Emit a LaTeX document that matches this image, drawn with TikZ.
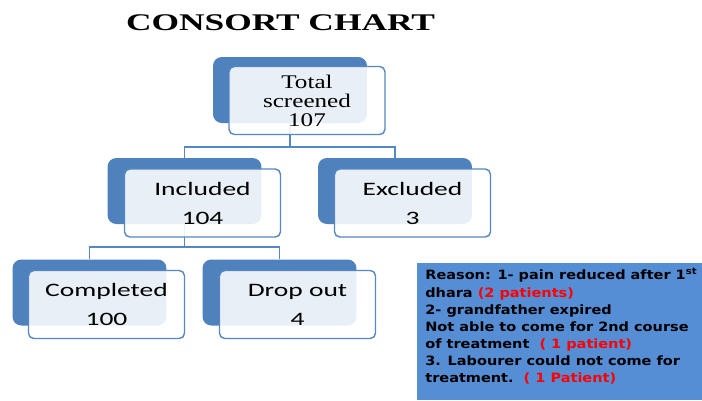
\documentclass[tikz,border=0pt]{standalone}
\usepackage{fontspec}
\usepackage{tikz}
\usetikzlibrary{positioning}
\usetikzlibrary{backgrounds}
\newfontfamily\titlefont[FakeStretch=1.48]{Liberation Serif}
\newfontfamily\topfont[FakeStretch=1.3]{Liberation Serif}
\newfontfamily\boxfont[FakeStretch=1.45]{Carlito}
\newfontfamily\notefont[FakeStretch=1.13]{DejaVu Sans}
\definecolor{boxblue}{RGB}{79,129,189}
\definecolor{boxline}{RGB}{84,135,196}
\definecolor{noteblue}{RGB}{85,142,213}
\definecolor{notered}{RGB}{255,0,0}
\tikzset{
  backbox/.style={fill=boxblue, rounded corners=5pt, minimum width=3.08cm, minimum height=1.32cm, inner sep=0pt},
  frontbox/.style={draw=boxline, line width=0.8pt, fill=white, fill opacity=0.88, text opacity=1, rounded corners=3pt, minimum width=3.12cm, minimum height=1.36cm, inner sep=0pt, align=center},
  link/.style={draw=boxline, line width=0.9pt}
}
\begin{document}
\begin{tikzpicture}[x=0.02cm, y=-0.02cm]
  \useasboundingbox (0,0) rectangle (702,400);
  \node (title) at (280.5,23) {\titlefont\bfseries\fontsize{13.6}{14}\selectfont CONSORT CHART};
  \node[backbox] (totalback) at (290,90) {};
  \node[frontbox, font={\topfont\fontsize{11}{10.8}\selectfont}] (total) at (307,100.5) {Total\\screened\\107};
  \node[backbox] (inclback) at (184.5,191) {};
  \node[frontbox, font={\boxfont\fontsize{10.8}{16.5}\selectfont}] (incl) at (202.5,203) {Included\\104};
  \node[backbox] (exclback) at (395,191) {};
  \node[frontbox, font={\boxfont\fontsize{10.8}{16.5}\selectfont}] (excl) at (412.5,203) {Excluded\\3};
  \node[backbox] (compback) at (89.5,292.5) {};
  \node[frontbox, font={\boxfont\fontsize{10.8}{16.5}\selectfont}] (comp) at (106.5,304.5) {Completed\\100};
  \node[backbox] (dropback) at (279.5,292.5) {};
  \node[frontbox, font={\boxfont\fontsize{10.8}{16.5}\selectfont}] (drop) at (297.5,304.5) {Drop out\\4};
  \begin{scope}[on background layer]
    \draw[link] (totalback) -- ++(0,57) -| (inclback);
    \draw[link] (totalback) -- ++(0,57) -| (exclback);
    \draw[link] (inclback) -- ++(0,56) -| (compback);
    \draw[link] (inclback) -- ++(0,56) -| (dropback);
  \end{scope}
  \fill[noteblue] (417,263) rectangle (702,400);
  \node[anchor=north west, align=left, inner sep=0pt, font={\notefont\bfseries\fontsize{7.3}{9.7}\selectfont}] (reason) at (425,268)
    {Reason: 1- pain reduced after 1\textsuperscript{st}\\
     dhara {\color{notered}(2 patients)}\\
     2- grandfather expired\\
     Not able to come for 2nd course\\
     of treatment\ \ {\color{notered}( 1 patient)}\\
     3. Labourer could not come for\\
     treatment.\ \ {\color{notered}( 1 Patient)}};
\end{tikzpicture}
\end{document}
